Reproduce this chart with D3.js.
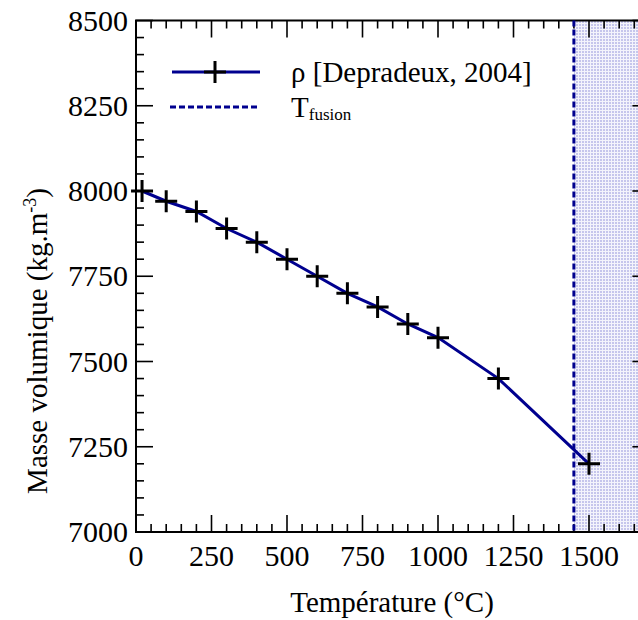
<!DOCTYPE html>
<html><head><meta charset="utf-8">
<script src="https://cdn.jsdelivr.net/npm/d3@7/dist/d3.min.js"></script></head>
<body style="margin:0">
<svg id="chart" width="638" height="620" font-family="Liberation Serif, Tinos, Times New Roman, Times, serif" style="font-family: 'Liberation Serif', 'Tinos', 'Times New Roman', Times, serif"></svg>
<script>
// Density of the alloy vs temperature
const temperatures = [20, 100, 200, 300, 400, 500, 600, 700, 800, 900, 1000, 1200, 1500];
const densities    = [8000, 7970, 7940, 7890, 7850, 7800, 7750, 7700, 7660, 7610, 7570, 7450, 7200];
const meltingTemp  = 1450;
const xTicks = [0, 250, 500, 750, 1000, 1250, 1500];
const yTicks = [7000, 7250, 7500, 7750, 8000, 8250, 8500];
const seriesLabel = "ρ [Depradeux, 2004]";

const faceList = "'Liberation Serif', 'Tinos', 'Times New Roman', Times, serif";
function serifText(sel) {
  return sel.attr("font-family", "Liberation Serif, Tinos, Times New Roman, Times, serif")
            .style("font-family", faceList);
}

const svg = d3.select("#chart");
const plotLeft = 136, plotTop = 20.5, plotBottom = 532;
const x = d3.scaleLinear().domain([0, 1700]).range([plotLeft, plotLeft + 1700 * 0.302]);
const y = d3.scaleLinear().domain([7000, 8500]).range([plotBottom, plotTop]);
const plotRight = x(1700);

const navy = "#00008f";

// dotted fill for the molten zone
const defs = svg.append("defs");
const pat = defs.append("pattern").attr("id", "dots")
  .attr("patternUnits", "userSpaceOnUse").attr("width", 3).attr("height", 3);
pat.append("rect").attr("width", 3).attr("height", 3).attr("fill", "#f4f4fc");
pat.append("rect").attr("width", 2).attr("height", 2).attr("fill", "#c6c6ec");

svg.append("rect")
  .attr("x", x(meltingTemp)).attr("y", plotTop)
  .attr("width", plotRight - x(meltingTemp)).attr("height", plotBottom - plotTop)
  .attr("fill", "url(#dots)");

// axes with inward ticks, major every 250 and minor every 50
const fmt = d3.format("d");
const ax = svg.append("g").attr("stroke", "#000").attr("stroke-width", 1.6);
d3.range(0, 1701, 50).forEach(v => {
  const len = v % 250 === 0 ? 17 : 8;
  ax.append("line").attr("x1", x(v)).attr("x2", x(v)).attr("y1", plotBottom).attr("y2", plotBottom - len);
  ax.append("line").attr("x1", x(v)).attr("x2", x(v)).attr("y1", plotTop).attr("y2", plotTop + len);
});
d3.range(7000, 8501, 50).forEach(v => {
  const len = v % 250 === 0 ? 17 : 8;
  ax.append("line").attr("y1", y(v)).attr("y2", y(v)).attr("x1", plotLeft).attr("x2", plotLeft + len);
  ax.append("line").attr("y1", y(v)).attr("y2", y(v)).attr("x1", plotRight).attr("x2", plotRight - len);
});
svg.append("rect")
  .attr("x", plotLeft).attr("y", plotTop).attr("width", plotRight - plotLeft).attr("height", plotBottom - plotTop)
  .attr("fill", "none").attr("stroke", "#000").attr("stroke-width", 2);

// tick labels
serifText(svg.selectAll("text.xt").data(xTicks).join("text")
  .attr("class", "xt")
  .attr("x", d => x(d)).attr("y", 566)
  .attr("text-anchor", "middle").attr("font-size", 30))
  .text(fmt);
serifText(svg.selectAll("text.yt").data(yTicks).join("text")
  .attr("class", "yt")
  .attr("x", 128).attr("y", d => y(d) + 10)
  .attr("text-anchor", "end").attr("font-size", 30))
  .text(fmt);

// axis titles
serifText(svg.append("text")
  .attr("x", 392).attr("y", 612)
  .attr("text-anchor", "middle").attr("font-size", 29))
  .text("Température (°C)");
const yl = serifText(svg.append("text")
  .attr("transform", "translate(47,341) rotate(-90)")
  .attr("text-anchor", "middle").attr("font-size", 29));
yl.append("tspan").text("Masse volumique (kg.m");
yl.append("tspan").attr("dy", -11).attr("font-size", 18).text("-3");
yl.append("tspan").attr("dy", 11).text(")");

// melting temperature
svg.append("line")
  .attr("x1", x(meltingTemp)).attr("x2", x(meltingTemp))
  .attr("y1", plotTop).attr("y2", plotBottom)
  .attr("stroke", navy).attr("stroke-width", 3).attr("stroke-dasharray", "6,3");

// density curve
const pts = temperatures.map((t, i) => [t, densities[i]]);
svg.append("path").datum(pts)
  .attr("fill", "none").attr("stroke", navy).attr("stroke-width", 3)
  .attr("d", d3.line().x(d => x(d[0])).y(d => y(d[1])));

function plus(g, cx, cy) {
  g.append("path")
    .attr("d", `M${cx - 11},${cy}H${cx + 11}M${cx},${cy - 11}V${cy + 11}`)
    .attr("stroke", "#000").attr("stroke-width", 3).attr("fill", "none");
}
const mk = svg.append("g");
pts.forEach(d => plus(mk, x(d[0]), y(d[1])));

// legend
const lg = svg.append("g");
lg.append("line").attr("x1", 172).attr("x2", 260).attr("y1", 72).attr("y2", 72)
  .attr("stroke", navy).attr("stroke-width", 3);
plus(lg, 215, 72);
lg.append("line").attr("x1", 170).attr("x2", 260).attr("y1", 107).attr("y2", 107)
  .attr("stroke", navy).attr("stroke-width", 3).attr("stroke-dasharray", "6,3");
serifText(lg.append("text")
  .attr("x", 291).attr("y", 82).attr("font-size", 29))
  .text(seriesLabel);
const tf = serifText(lg.append("text")
  .attr("x", 291).attr("y", 117).attr("font-size", 29));
tf.append("tspan").text("T");
tf.append("tspan").attr("dy", 3).attr("font-size", 17).text("fusion");
</script></body></html>
